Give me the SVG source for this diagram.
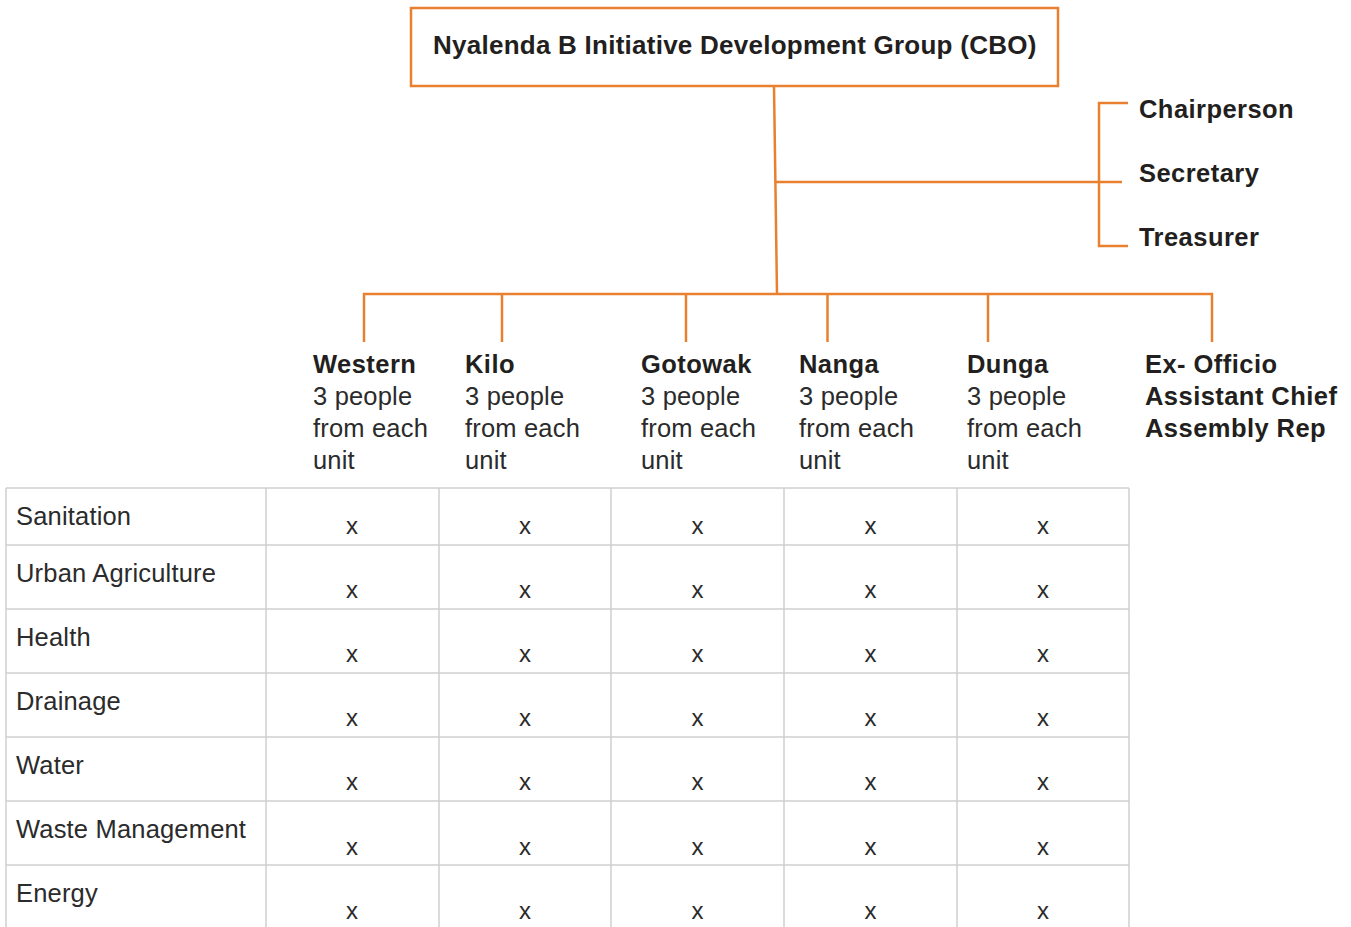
<svg xmlns="http://www.w3.org/2000/svg" width="1351" height="927" viewBox="0 0 1351 927">
<style>
.o{stroke:#E9802F;stroke-width:2.5;fill:none}
.g{stroke:#D0D0D0;stroke-width:1.5;fill:none}
.b{font-family:"Liberation Sans",Arial,sans-serif;font-weight:bold;font-size:25.5px;fill:#231f20;letter-spacing:0.45px}
.r{font-family:"Liberation Sans",Arial,sans-serif;font-size:25.5px;fill:#2b2b2b;letter-spacing:0.18px}
.x{font-family:"Liberation Sans",Arial,sans-serif;font-size:24px;fill:#2b2b2b;text-anchor:middle}
</style>
<rect width="1351" height="927" fill="#fff"/>
<g id="connectors">
<path class="o" d="M774,86 L777,294"/>
<path class="o" d="M775,182 H1122"/>
<path class="o" d="M1128,103 H1099 V246 H1128"/>
<path class="o" d="M364,342 V294 H1212 V342"/>
<path class="o" d="M502,294 V342 M686,294 V342 M827.5,294 V342 M988,294 V342"/>
</g>
<g id="cbo">
<rect class="o" x="411" y="8" width="647" height="78"/>
<text class="b" x="433" y="54" style="font-size:26px;letter-spacing:0.25px">Nyalenda B Initiative Development Group (CBO)</text>
</g>
<g id="officers">
<text class="b" x="1139" y="118">Chairperson</text>
<text class="b" x="1139" y="182">Secretary</text>
<text class="b" x="1139" y="246">Treasurer</text>
</g>
<g id="western"><text class="b" x="313" y="373">Western</text><text class="r" x="313" y="405">3 people</text><text class="r" x="313" y="437">from each</text><text class="r" x="313" y="469">unit</text></g>
<g id="kilo"><text class="b" x="465" y="373">Kilo</text><text class="r" x="465" y="405">3 people</text><text class="r" x="465" y="437">from each</text><text class="r" x="465" y="469">unit</text></g>
<g id="gotowak"><text class="b" x="641" y="373">Gotowak</text><text class="r" x="641" y="405">3 people</text><text class="r" x="641" y="437">from each</text><text class="r" x="641" y="469">unit</text></g>
<g id="nanga"><text class="b" x="799" y="373">Nanga</text><text class="r" x="799" y="405">3 people</text><text class="r" x="799" y="437">from each</text><text class="r" x="799" y="469">unit</text></g>
<g id="dunga"><text class="b" x="967" y="373">Dunga</text><text class="r" x="967" y="405">3 people</text><text class="r" x="967" y="437">from each</text><text class="r" x="967" y="469">unit</text></g>
<g id="exofficio"><text class="b" x="1145" y="373">Ex- Officio</text><text class="b" x="1145" y="405">Assistant Chief</text><text class="b" x="1145" y="437">Assembly Rep</text></g>
<g id="table">
<path class="g" d="M6,488 H1129 M6,545 H1129 M6,609 H1129 M6,673 H1129 M6,737 H1129 M6,801 H1129 M6,865 H1129"/>
<path class="g" d="M6,488 V927 M266,488 V927 M439,488 V927 M611,488 V927 M784,488 V927 M957,488 V927 M1129,488 V927"/>
<text class="r" x="16" y="525">Sanitation</text>
<text class="r" x="16" y="582">Urban Agriculture</text>
<text class="r" x="16" y="646">Health</text>
<text class="r" x="16" y="710">Drainage</text>
<text class="r" x="16" y="774">Water</text>
<text class="r" x="16" y="838">Waste Management</text>
<text class="r" x="16" y="902">Energy</text>
<g class="x">
<text x="352" y="534">x</text><text x="525" y="534">x</text><text x="697.5" y="534">x</text><text x="870.5" y="534">x</text><text x="1043" y="534">x</text>
<text x="352" y="598">x</text><text x="525" y="598">x</text><text x="697.5" y="598">x</text><text x="870.5" y="598">x</text><text x="1043" y="598">x</text>
<text x="352" y="662">x</text><text x="525" y="662">x</text><text x="697.5" y="662">x</text><text x="870.5" y="662">x</text><text x="1043" y="662">x</text>
<text x="352" y="726">x</text><text x="525" y="726">x</text><text x="697.5" y="726">x</text><text x="870.5" y="726">x</text><text x="1043" y="726">x</text>
<text x="352" y="790">x</text><text x="525" y="790">x</text><text x="697.5" y="790">x</text><text x="870.5" y="790">x</text><text x="1043" y="790">x</text>
<text x="352" y="855">x</text><text x="525" y="855">x</text><text x="697.5" y="855">x</text><text x="870.5" y="855">x</text><text x="1043" y="855">x</text>
<text x="352" y="919">x</text><text x="525" y="919">x</text><text x="697.5" y="919">x</text><text x="870.5" y="919">x</text><text x="1043" y="919">x</text>
</g>
</g>
</svg>
